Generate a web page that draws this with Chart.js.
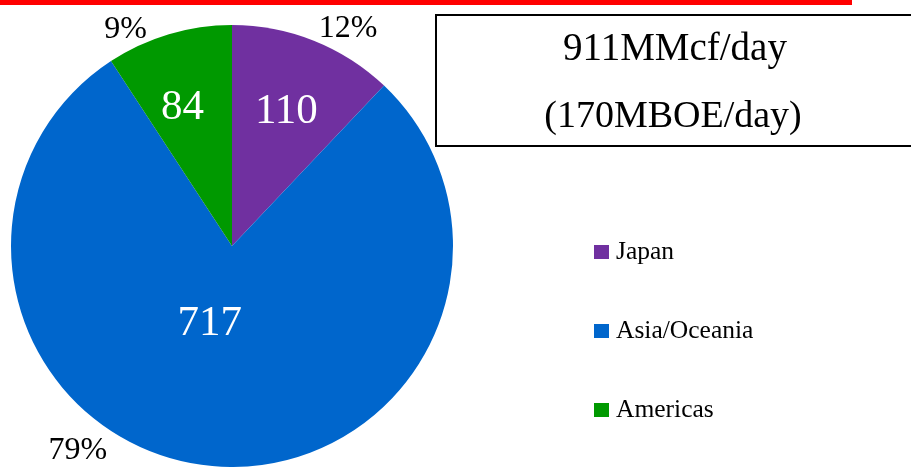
<!DOCTYPE html>
<html>
<head>
<meta charset="utf-8">
<script src="https://cdn.jsdelivr.net/npm/chart.js@4"></script>
<style>
  html, body { margin: 0; padding: 0; background: #ffffff; }
  #wrap { position: relative; width: 911px; height: 467px; }
</style>
</head>
<body>
<div id="wrap"><canvas id="c" width="911" height="467"></canvas></div>
<script>
// ---- data ----
const categories = ['Japan', 'Asia/Oceania', 'Americas'];
const volumes = [110, 717, 84];
const percentLabels = ['12%', '79%', '9%'];
const titleLines = ['911MMcf/day', '(170MBOE/day)'];

// ---- styles ----
const colors = ['#7030A0', '#0066CC', '#009900'];
const FONT = '"Liberation Serif", "Times New Roman", serif';
// label placement relative to each slice (angle offset in degrees, radius fraction)
const valuePlacement = [[0, 0.665], [11.4, 0.355], [-2.8, 0.675]];
const pctPlacement = [[6.2, 1.12], [32, 1.155], [-9.5, 1.095]];

const overlay = {
  id: 'overlay',
  afterDraw(chart) {
    const ctx = chart.ctx;
    const meta = chart.getDatasetMeta(0);
    ctx.save();
    // red rule at top
    ctx.fillStyle = '#FF0000';
    ctx.fillRect(0, 0, 852, 5);
    // title box
    ctx.strokeStyle = '#000000';
    ctx.lineWidth = 2;
    ctx.strokeRect(436, 15, 480, 131);
    ctx.fillStyle = '#000000';
    ctx.textAlign = 'center';
    ctx.textBaseline = 'alphabetic';
    ctx.font = '39px ' + FONT;
    ctx.fillText(titleLines[0], 675, 60);
    ctx.font = '38px ' + FONT;
    ctx.fillText(titleLines[1], 673, 127);

    // slice labels
    meta.data.forEach((arc, i) => {
      const p = arc.getProps(['x', 'y', 'startAngle', 'endAngle', 'outerRadius'], true);
      const mid = (p.startAngle + p.endAngle) / 2;
      const va = mid + valuePlacement[i][0] * Math.PI / 180;
      const vr = p.outerRadius * valuePlacement[i][1];
      ctx.fillStyle = '#FFFFFF';
      ctx.font = '43px ' + FONT;
      ctx.textBaseline = 'middle';
      ctx.fillText(String(chart.data.datasets[0].data[i]), p.x + Math.cos(va) * vr, p.y + Math.sin(va) * vr + 2);
      const pa = mid + pctPlacement[i][0] * Math.PI / 180;
      const pr = p.outerRadius * pctPlacement[i][1];
      ctx.fillStyle = '#000000';
      ctx.font = '32px ' + FONT;
      ctx.fillText(percentLabels[i], p.x + Math.cos(pa) * pr, p.y + Math.sin(pa) * pr + 1);
    });

    // legend
    ctx.textAlign = 'left';
    ctx.textBaseline = 'alphabetic';
    ctx.font = '25.5px ' + FONT;
    chart.data.labels.forEach((lab, i) => {
      const baseY = 259 + i * 79;
      ctx.fillStyle = chart.data.datasets[0].backgroundColor[i];
      ctx.fillRect(594, baseY - 14, 15, 14);
      ctx.fillStyle = '#000000';
      ctx.fillText(lab, 616, baseY);
    });
    ctx.restore();
  }
};

new Chart(document.getElementById('c'), {
  type: 'pie',
  data: {
    labels: categories,
    datasets: [{
      data: volumes,
      backgroundColor: colors,
      borderWidth: 0
    }]
  },
  options: {
    responsive: false,
    animation: false,
    layout: { padding: { left: 11, top: 25, right: 458, bottom: 0 } },
    plugins: { legend: { display: false }, tooltip: { enabled: false } }
  },
  plugins: [overlay]
});
</script>
</body>
</html>
